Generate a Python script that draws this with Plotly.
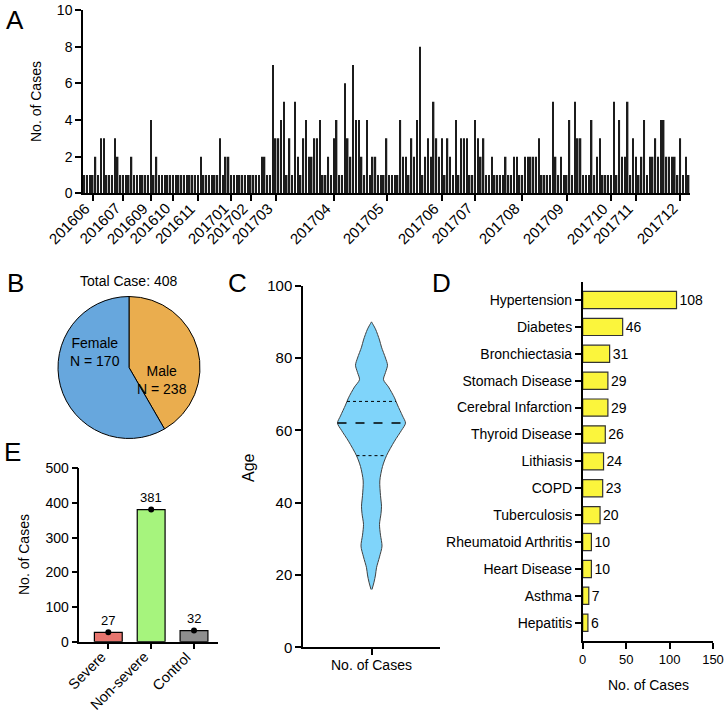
import numpy as np
import plotly.graph_objects as go

W, H = 726, 712
FONT = "Liberation Sans, Arial, sans-serif"

# ---------------- Panel A: daily cases ----------------
daily_cases = [
    1, 1, 1, 1, 2, 1, 3, 3, 1, 1, 1, 3, 2, 1, 1, 1, 1, 2, 1, 1,
    1, 1, 1, 1, 4, 1, 2, 1, 1, 1, 1, 1, 1, 1, 1, 1, 1, 1, 1, 1,
    1, 1, 2, 1, 1, 1, 1, 1, 1, 3, 1, 2, 2, 1, 1, 1, 1, 1, 1, 1,
    1, 1, 1, 1, 2, 2, 1, 1, 7, 3, 3, 4, 5, 1, 3, 1, 5, 2, 1, 3,
    4, 2, 2, 3, 3, 4, 1, 1, 2, 1, 3, 4, 1, 1, 6, 3, 2, 7, 4, 4,
    2, 1, 4, 1, 2, 2, 1, 1, 1, 3, 1, 1, 1, 1, 4, 2, 2, 1, 3, 2,
    4, 8, 1, 2, 3, 2, 5, 3, 2, 3, 1, 3, 2, 1, 4, 1, 3, 3, 3, 1,
    1, 4, 3, 2, 3, 1, 1, 2, 1, 1, 1, 1, 2, 1, 1, 2, 2, 1, 1, 2,
    2, 2, 2, 2, 3, 1, 1, 1, 1, 5, 2, 1, 2, 1, 1, 4, 1, 5, 3, 3,
    1, 1, 1, 4, 1, 2, 3, 1, 1, 1, 1, 5, 1, 4, 2, 2, 5, 1, 3, 2,
    1, 2, 4, 1, 2, 2, 3, 2, 4, 4, 2, 2, 2, 2, 1, 3, 1, 2, 1,
]
month_tick_index = [3, 14, 24, 32, 41, 53, 60, 69, 90, 109, 129, 141, 158, 174, 190, 199, 215]
month_labels = ["201606", "201607", "201609", "201610", "201611", "201701", "201702",
                "201703", "201704", "201705", "201706", "201707", "201708", "201709",
                "201710", "201711", "201712"]

# ---------------- Panel B: sex ----------------
sex_labels = ["Female", "Male"]
sex_counts = [170, 238]
total_cases = 408

# ---------------- Panel C: age violin profile ----------------
violin_age = [16, 18, 20, 22, 25, 28, 31, 34, 37, 39, 42, 46, 50, 53, 57, 60, 62,
              64, 67, 69, 72, 74, 76, 78, 80, 83, 85, 88, 90]
violin_halfwidth = [0.5, 2.5, 4, 5, 8, 10.5, 9, 8, 9.5, 10, 9, 8.3, 11, 15, 23, 30, 34,
                    31, 26, 23, 17, 12, 14, 16, 14, 10, 8, 4, 0]
age_median, age_q1, age_q3 = 62, 53, 68

# ---------------- Panel D: comorbidities ----------------
disease_names = ["Hypertension", "Diabetes", "Bronchiectasia", "Stomach Disease",
                 "Cerebral Infarction", "Thyroid Disease", "Lithiasis", "COPD",
                 "Tuberculosis", "Rheumatoid Arthritis", "Heart Disease", "Asthma", "Hepatitis"]
disease_counts = [108, 46, 31, 29, 29, 26, 24, 23, 20, 10, 10, 7, 6]

# ---------------- Panel E: severity ----------------
severity_groups = ["Severe", "Non-severe", "Control"]
severity_counts = [27, 381, 32]
severity_colors = ["#E7756E", "#A6F47D", "#8E8E8E"]


def fx(px):
    return px / W


def fy(py):
    return 1 - py / H


def axis_style(size=14):
    return dict(showline=True, linecolor="black", linewidth=1.5, ticks="outside",
                ticklen=6, tickwidth=1.5, tickcolor="black", showgrid=False,
                zeroline=False, automargin=False, ticklabeloverflow="allow",
                tickfont=dict(family=FONT, size=size, color="black"))


fig = go.Figure()

# A
fig.add_trace(go.Bar(x=list(range(len(daily_cases))), y=daily_cases, width=0.55,
                     marker=dict(color="#1c1c1c", line=dict(width=0)),
                     xaxis="x", yaxis="y", showlegend=False))

# B
fig.add_trace(go.Pie(labels=sex_labels, values=sex_counts, sort=False,
                     direction="clockwise", rotation=0,
                     marker=dict(colors=["#EAAD4E", "#67A7DD"], line=dict(color="black", width=1)),
                     textinfo="none", hoverinfo="label+value",
                     domain=dict(x=[fx(58), fx(200)], y=[fy(438.5), fy(296.5)]),
                     showlegend=False))

# C violin drawn from profile
scale_c = 1.0 / 68.5  # px -> axis units
hw = np.array(violin_halfwidth) * scale_c
vx = np.concatenate([-hw, hw[::-1]])
vy = np.concatenate([violin_age, violin_age[::-1]])
fig.add_trace(go.Scatter(x=vx, y=vy, fill="toself", fillcolor="#7FD4FA",
                         line=dict(color="#404040", width=1, shape="spline", smoothing=0.8),
                         mode="lines", xaxis="x2", yaxis="y2", showlegend=False, hoverinfo="skip"))
for a, dash, wd in [(age_median, "dash", 1.5), (age_q1, "dot", 1), (age_q3, "dot", 1)]:
    w = float(np.interp(a, violin_age, violin_halfwidth)) * scale_c
    fig.add_trace(go.Scatter(x=[-w, w], y=[a, a], mode="lines",
                             line=dict(color="black", width=wd, dash=dash),
                             xaxis="x2", yaxis="y2", showlegend=False, hoverinfo="skip"))

# D
fig.add_trace(go.Bar(x=disease_counts, y=list(range(len(disease_names))), orientation="h",
                     width=0.64, marker=dict(color="#FBF53C", line=dict(color="#333333", width=1.2)),
                     text=[str(v) for v in disease_counts], textposition="outside",
                     textfont=dict(family=FONT, size=14, color="black"), cliponaxis=False,
                     xaxis="x3", yaxis="y3", showlegend=False))

# E
fig.add_trace(go.Bar(x=list(range(3)), y=severity_counts, width=0.65,
                     marker=dict(color=severity_colors, line=dict(color="black", width=1.2)),
                     xaxis="x4", yaxis="y4", showlegend=False))
fig.add_trace(go.Scatter(x=list(range(3)), y=severity_counts, mode="markers",
                         marker=dict(color="black", size=6), cliponaxis=False,
                         xaxis="x4", yaxis="y4", showlegend=False))

annotations = []
for txt, x, y in [("A", 15, 20), ("B", 15, 283), ("C", 237, 283), ("D", 441, 283), ("E", 12, 452)]:
    annotations.append(dict(text=txt, x=fx(x), y=fy(y), font=dict(family=FONT, size=26, color="black")))
annotations += [
    dict(text="No. of Cases", x=fx(36), y=fy(102), textangle=-90),
    dict(text="Age", x=fx(248), y=fy(468), textangle=-90, font=dict(family=FONT, size=16, color="black")),
    dict(text="No. of Cases", x=fx(24), y=fy(555), textangle=-90),
    dict(text="No. of Cases", x=fx(648), y=fy(685)),
    dict(text="No. of Cases", x=fx(371.5), y=fy(665)),
    dict(text=f"Total Case: {total_cases}", x=fx(128), y=fy(281)),
    dict(text=f"Female<br>N = {sex_counts[0]}", x=fx(95), y=fy(352)),
    dict(text=f"Male<br>N = {sex_counts[1]}", x=fx(162), y=fy(380)),
]
for a in annotations:
    a.setdefault("xref", "paper")
    a.setdefault("yref", "paper")
    a.setdefault("xanchor", "center")
    a.setdefault("yanchor", "middle")
    a.setdefault("showarrow", False)
    a.setdefault("font", dict(family=FONT, size=14, color="black"))
# rotated tick labels for panel A
for idx, lab in zip(month_tick_index, month_labels):
    annotations.append(dict(text=lab, x=idx, xref="x", y=fy(197), yref="paper", xshift=3,
                            textangle=-45, xanchor="right", yanchor="top", showarrow=False,
                            font=dict(family=FONT, size=15, color="black")))
# rotated tick labels for panel E
for i, lab in enumerate(severity_groups):
    annotations.append(dict(text=lab, x=i, xref="x4", y=fy(646), yref="paper", xshift=3,
                            textangle=-45, xanchor="right", yanchor="top", showarrow=False,
                            font=dict(family=FONT, size=14.5, color="black")))
for i, v in enumerate(severity_counts):
    annotations.append(dict(text=str(v), x=i, y=v, xref="x4", yref="y4", yshift=12,
                            xanchor="center", yanchor="middle",
                            showarrow=False, font=dict(family=FONT, size=13, color="black")))

fig.update_layout(
    template="none",
    width=W, height=H, margin=dict(l=0, r=0, t=0, b=0, autoexpand=False),
    paper_bgcolor="white", plot_bgcolor="rgba(0,0,0,0)",
    font=dict(family=FONT, size=14, color="black"),
    xaxis=dict(domain=[fx(83), fx(690)], anchor="y", range=[-0.5, len(daily_cases) - 0.5],
               tickvals=month_tick_index, showticklabels=False, **axis_style(13)),
    yaxis=dict(domain=[fy(193.3), fy(10)], anchor="x", range=[0, 10], dtick=2, **axis_style(14)),
    xaxis2=dict(domain=[fx(303), fx(440)], anchor="y2", range=[-1, 1], tickvals=[0],
                showticklabels=False, **axis_style(14)),
    yaxis2=dict(domain=[fy(647.3), fy(285.7)], anchor="x2", range=[0, 100], dtick=20, **axis_style(15)),
    xaxis3=dict(domain=[fx(582.7), fx(713)], anchor="y3", range=[0, 150], dtick=50, **axis_style(13)),
    yaxis3=dict(domain=[fy(641), fy(282)], anchor="x3", range=[12.68, -0.67],
                tickvals=list(range(len(disease_names))), ticktext=disease_names, **axis_style(14)),
    xaxis4=dict(domain=[fx(79.3), fx(218)], anchor="y4", range=[-0.677, 2.56],
                tickvals=[0, 1, 2], showticklabels=False, **axis_style(13)),
    yaxis4=dict(domain=[fy(641.7), fy(468.3)], anchor="x4", range=[0, 500], dtick=100, **axis_style(14)),
    annotations=annotations,
)

fig.write_html("out.html", config={"displayModeBar": False},
               post_script="document.body.style.margin='0px';document.body.style.overflow='hidden';")
